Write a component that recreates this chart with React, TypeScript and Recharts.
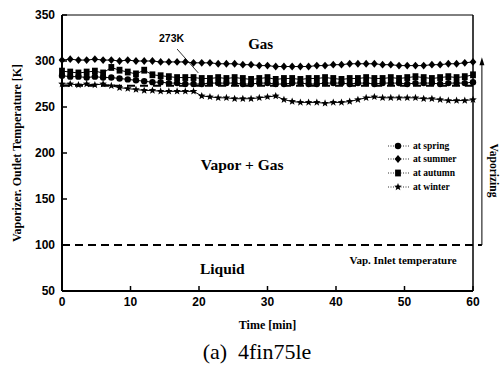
import React from 'react';
import {
  LineChart,
  Line,
  XAxis,
  YAxis,
  ReferenceLine,
  ReferenceDot,
  Legend,
  Label,
} from 'recharts';

// time axis, one reading every 1.2 min
const timeMin = [
  0, 1.2, 2.4, 3.6, 4.8, 6, 7.2, 8.4, 9.6, 10.8, 12, 13.2, 14.4, 15.6, 16.8, 18, 19.2, 20.4,
  21.6, 22.8, 24, 25.2, 26.4, 27.6, 28.8, 30, 31.2, 32.4, 33.6, 34.8, 36, 37.2, 38.4, 39.6,
  40.8, 42, 43.2, 44.4, 45.6, 46.8, 48, 49.2, 50.4, 51.6, 52.8, 54, 55.2, 56.4, 57.6, 58.8, 60,
];

const spring = [
  284, 283, 283, 282, 283, 282, 282, 281, 280, 279, 278, 277, 277, 276, 276, 275, 275, 275,
  276, 276, 276, 276, 275, 275, 276, 276, 275, 275, 276, 276, 275, 275, 276, 276, 276, 275,
  276, 276, 275, 276, 276, 276, 275, 276, 276, 276, 275, 276, 276, 276, 277,
];

const summer = [
  301, 302, 301, 301, 302, 301, 301, 300, 301, 300, 300, 300, 299, 299, 299, 299, 298, 298,
  298, 297, 297, 297, 296, 296, 295, 295, 294, 294, 294, 294, 294, 295, 295, 296, 296, 297,
  297, 297, 297, 296, 296, 295, 295, 295, 295, 296, 296, 297, 297, 298, 299,
];

const autumn = [
  289, 288, 287, 288, 289, 287, 293, 290, 288, 286, 290, 285, 284, 283, 282, 282, 282, 281,
  281, 282, 281, 282, 281, 280, 281, 282, 280, 281, 281, 280, 281, 281, 282, 281, 280, 281,
  281, 282, 281, 281, 282, 281, 282, 283, 282, 281, 282, 283, 282, 283, 285,
];

const winter = [
  275, 275, 274, 275, 274, 275, 273, 271, 270, 269, 268, 268, 267, 267, 267, 267, 267, 262,
  261, 260, 260, 259, 259, 259, 260, 261, 262, 258, 256, 255, 255, 255, 254, 255, 255, 256,
  258, 260, 261, 260, 260, 260, 260, 260, 259, 259, 258, 257, 257, 257, 258,
];

const xTicks = [0, 10, 20, 30, 40, 50, 60];
const yTicks = [50, 100, 150, 200, 250, 300, 350];

const chartData = timeMin.map((t, i) => ({
  t,
  spring: spring[i],
  summer: summer[i],
  autumn: autumn[i],
  winter: winter[i],
}));

const INK = '#000';
const serif = '"Liberation Serif", "Times New Roman", serif';
const sans = '"Liberation Sans", Arial, sans-serif';

type Shape = 'circle' | 'diamond' | 'square' | 'star';

const starPoints = (cx: number, cy: number, ro: number, ri: number) => {
  const pts: string[] = [];
  for (let k = 0; k < 10; k++) {
    const r = k % 2 === 0 ? ro : ri;
    const a = -Math.PI / 2 + (k * Math.PI) / 5;
    pts.push(`${cx + r * Math.cos(a)},${cy + r * Math.sin(a)}`);
  }
  return pts.join(' ');
};

const marker = (shape: Shape, cx: number, cy: number, key?: string) => {
  if (shape === 'circle') return <circle key={key} cx={cx} cy={cy} r={3.2} fill={INK} />;
  if (shape === 'diamond')
    return (
      <polygon
        key={key}
        points={`${cx},${cy - 3.9} ${cx + 3.4},${cy} ${cx},${cy + 3.9} ${cx - 3.4},${cy}`}
        fill={INK}
      />
    );
  if (shape === 'square')
    return <rect key={key} x={cx - 2.9} y={cy - 3.4} width={5.8} height={6.8} fill={INK} />;
  return <polygon key={key} points={starPoints(cx, cy, 4, 1.7)} fill={INK} />;
};

const dotFor = (shape: Shape, name: string) => (p: any) =>
  marker(shape, p.cx, p.cy, `${name}-${p.index}`);

const seriesInfo: { key: string; label: string; shape: Shape }[] = [
  { key: 'spring', label: 'at spring', shape: 'circle' },
  { key: 'summer', label: 'at summer', shape: 'diamond' },
  { key: 'autumn', label: 'at autumn', shape: 'square' },
  { key: 'winter', label: 'at winter', shape: 'star' },
];

const LegendBox = () => (
  <div style={{ fontFamily: serif, fontWeight: 'bold', fontSize: 9.5, color: INK }}>
    {seriesInfo.map((s) => (
      <div key={s.key} style={{ display: 'flex', alignItems: 'center', height: 13.6 }}>
        <svg width={24} height={12} style={{ display: 'block' }}>
          <line x1={1} y1={6} x2={23} y2={6} stroke={INK} strokeWidth={0.8} strokeDasharray="1 1.5" />
          {marker(s.shape, 11, 6)}
        </svg>
        <span style={{ marginLeft: 2 }}>{s.label}</span>
      </div>
    ))}
  </div>
);

const textAt = (str: string, size: number, opts: any = {}) => (p: any) => (
  <text
    x={p.cx}
    y={p.cy}
    textAnchor="middle"
    dominantBaseline="central"
    fontFamily={opts.family || serif}
    fontWeight="bold"
    fontSize={size}
    fill={INK}
    transform={opts.rotate ? `rotate(${opts.rotate} ${p.cx} ${p.cy})` : undefined}
  >
    {str}
  </text>
);

const arrowHead = (p: any) => (
  <polygon points={`${p.cx},${p.cy} ${p.cx - 2.5},${p.cy + 8} ${p.cx + 2.5},${p.cy + 8}`} fill={INK} />
);

export default function App() {
  return (
    <div style={{ position: 'absolute', left: 0, top: 0, width: 504, height: 368, background: '#fff' }}>
      <LineChart width={504} height={340} data={chartData} margin={{ top: 15, right: 31, bottom: 0, left: 0 }}>
        <XAxis
          dataKey="t"
          type="number"
          domain={[0, 60]}
          ticks={xTicks}
          height={49}
          tickSize={-5}
          tickMargin={11}
          axisLine={{ stroke: INK, strokeWidth: 2 }}
          tickLine={{ stroke: INK, strokeWidth: 1.5 }}
          tick={{ fill: INK, fontSize: 12, fontFamily: sans, fontWeight: 'bold' }}
        >
          <Label
            content={(props: any) => {
              const vb = props.viewBox;
              return (
                <text
                  x={vb.x + vb.width / 2}
                  y={325}
                  textAnchor="middle"
                  dominantBaseline="central"
                  fontFamily={serif}
                  fontWeight="bold"
                  fontSize={12}
                  fill={INK}
                >
                  Time [min]
                </text>
              );
            }}
          />
        </XAxis>
        <YAxis
          type="number"
          domain={[50, 350]}
          ticks={yTicks}
          width={62}
          tickSize={-5}
          tickMargin={12}
          axisLine={{ stroke: INK, strokeWidth: 2 }}
          tickLine={{ stroke: INK, strokeWidth: 1.5 }}
          tick={{ fill: INK, fontSize: 12, fontFamily: sans, fontWeight: 'bold' }}
        >
          <Label
            content={(props: any) => {
              const vb = props.viewBox;
              const cy = vb.y + vb.height / 2;
              return (
                <text
                  x={17}
                  y={cy}
                  textAnchor="middle"
                  dominantBaseline="central"
                  fontFamily={serif}
                  fontWeight="bold"
                  fontSize={12}
                  fill={INK}
                  transform={`rotate(-90 17 ${cy})`}
                >
                  Vaporizer. Outlet Temperature [K]
                </text>
              );
            }}
          />
        </YAxis>

        {/* frame */}
        <ReferenceLine y={350} stroke={INK} strokeWidth={1} ifOverflow="visible" />
        <ReferenceLine x={60} stroke={INK} strokeWidth={1.5} ifOverflow="visible" />

        {/* 273K line and its note */}
        <ReferenceLine y={273} stroke={INK} strokeWidth={2} strokeDasharray="8 5" />
        <ReferenceLine
          segment={[{ x: 16.8, y: 313 }, { x: 19.9, y: 287 }]}
          stroke={INK}
          strokeWidth={0.8}
          ifOverflow="visible"
        />
        <ReferenceDot x={16} y={325} r={0} ifOverflow="visible" shape={textAt('273K', 10.5, { family: sans })} />

        {/* inlet temperature and vaporizing arrow */}
        <ReferenceLine
          segment={[{ x: 0, y: 100 }, { x: 61.3, y: 100 }]}
          stroke={INK}
          strokeWidth={2}
          strokeDasharray="8 5"
          ifOverflow="visible"
        />
        <ReferenceLine
          segment={[{ x: 61.3, y: 100 }, { x: 61.3, y: 298 }]}
          stroke={INK}
          strokeWidth={1}
          ifOverflow="visible"
        />
        <ReferenceDot x={61.3} y={304} r={0} ifOverflow="visible" shape={arrowHead} />
        <ReferenceDot x={63} y={181} r={0} ifOverflow="visible" shape={textAt('Vaporizing', 11.5, { rotate: 90 })} />

        {/* phase regions */}
        <ReferenceDot x={29} y={318} r={0} ifOverflow="visible" shape={textAt('Gas', 15)} />
        <ReferenceDot x={26.3} y={187} r={0} ifOverflow="visible" shape={textAt('Vapor + Gas', 15.5)} />
        <ReferenceDot x={23.4} y={75} r={0} ifOverflow="visible" shape={textAt('Liquid', 15.5)} />
        <ReferenceDot x={49.8} y={84} r={0} ifOverflow="visible" shape={textAt('Vap. Inlet temperature', 11)} />

        {seriesInfo.map((s) => (
          <Line
            key={s.key}
            dataKey={s.key}
            name={s.label}
            type="linear"
            stroke={INK}
            strokeWidth={1}
            dot={dotFor(s.shape, s.key)}
            activeDot={false}
            isAnimationActive={false}
          />
        ))}

        <Legend
          layout="vertical"
          align="center"
          verticalAlign="middle"
          content={() => <LegendBox />}
          wrapperStyle={{ left: 387, top: 139, width: 100, height: 56 }}
        />
      </LineChart>
      <div
        style={{
          position: 'absolute',
          left: 0,
          top: 339,
          width: 514,
          textAlign: 'center',
          fontFamily: serif,
          fontSize: 22,
          color: INK,
          whiteSpace: 'pre',
          lineHeight: '26px',
        }}
      >
        (a)  4fin75le
      </div>
    </div>
  );
}
